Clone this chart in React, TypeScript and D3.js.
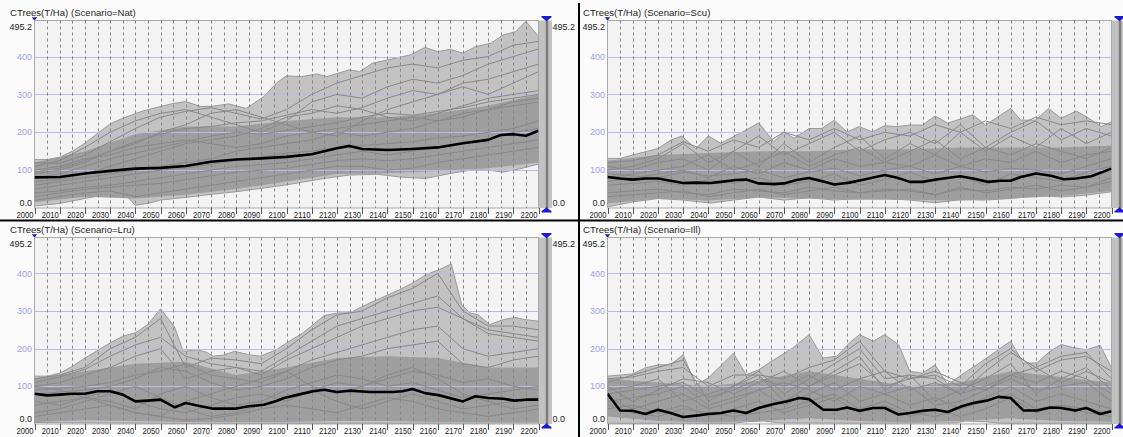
import React from 'react';
import * as d3 from 'd3';

type Pt = [number, number];

// axis setup
const Y_MAX = 495.2;
const Y_GRID = [100, 200, 300, 400];
const X_LABELS = d3.range(2000, 2201, 10);
const X_DASH = d3.range(2005, 2200, 5);
const CORE_YEARS = d3.range(2000, 2201, 20);
const LINE_YEARS = d3.range(2000, 2201, 10);

// ---- Scenario=Nat ----
const NAT_MAX: Pt[] = [[2000,128],[2005,128],[2010,134],[2015,150],[2020,171],[2025,197],[2030,222],[2035,237],[2042,254],[2047,263],[2055,276],[2060,281],[2066,268],[2071,269],[2077,275],[2084,263],[2091,294],[2096,330],[2100,349],[2106,347],[2112,354],[2116,347],[2125,365],[2129,360],[2134,382],[2140,391],[2149,404],[2155,424],[2160,413],[2165,419],[2170,409],[2175,426],[2181,435],[2186,457],[2191,466],[2195,493],[2200,453]];
const NAT_MIN: Pt[] = [[2000,5],[2010,12],[2020,25],[2030,38],[2035,43],[2040,7],[2045,12],[2050,21],[2060,28],[2070,36],[2080,43],[2090,52],[2099,60],[2107,69],[2115,78],[2125,87],[2136,89],[2145,82],[2155,78],[2165,91],[2173,100],[2180,100],[2186,95],[2193,104],[2200,116]];
const NAT_MEAN: Pt[] = [[2000,81],[2010,82],[2020,91],[2030,98],[2040,104],[2050,106],[2060,111],[2070,122],[2080,128],[2090,131],[2100,135],[2110,142],[2120,158],[2125,164],[2130,156],[2140,153],[2150,156],[2160,160],[2170,171],[2180,180],[2185,193],[2190,195],[2195,191],[2200,204]];
const NAT_CORE_HI = [120,150,195,215,215,230,240,240,250,270,300];
const NAT_CORE_LO = [15,30,25,35,50,70,90,92,98,105,120];
const NAT_RUNS = [
  [110,125,160,200,230,250,260,240,220,200,230,280,300,290,320,340,330,350,380,400,420],
  [90,100,120,150,170,200,220,250,260,240,220,200,190,230,260,280,300,320,300,330,360],
  [70,75,90,110,130,150,170,180,190,210,240,250,270,260,240,230,250,270,290,300,310],
  [60,70,80,90,100,110,120,130,150,160,170,180,200,190,200,210,230,240,260,280,290],
  [40,45,55,60,70,80,90,100,110,115,120,130,140,150,140,150,160,170,180,200,210],
  [20,30,40,45,30,40,50,60,70,80,90,100,110,110,100,105,120,130,140,150,160],
  [100,110,130,140,160,170,180,170,160,170,190,200,210,220,230,240,230,250,260,270,280],
  [120,118,140,175,210,240,255,265,250,235,260,300,330,350,370,380,370,390,400,430,440],
  [80,90,110,130,145,160,175,190,200,195,205,215,225,240,250,245,255,265,280,290,300],
  [50,60,70,80,90,100,105,115,125,135,145,150,160,165,170,175,185,190,200,210,230],
  [30,40,50,55,60,65,75,85,95,100,105,115,125,130,125,130,140,150,160,170,180],
  [95,105,125,150,175,195,210,215,225,230,245,260,250,265,290,310,300,330,340,360,380],
];

// ---- Scenario=Scu ----
const SCU_MAX: Pt[] = [[2000,131],[2005,131],[2010,140],[2020,157],[2025,179],[2029.5,190],[2035,157],[2040,190],[2045,171],[2055,206],[2060,225],[2066,175],[2070,201],[2074,184],[2080,210],[2085,210],[2090,232],[2095,201],[2100,215],[2105,201],[2110,217],[2115,215],[2120,219],[2125,219],[2130,243],[2135,224],[2145,246],[2150,219],[2160,263],[2164,232],[2170,232],[2175,263],[2180,237],[2186,256],[2190,241],[2196,215],[2200,228]];
const SCU_MIN: Pt[] = [[2000,3],[2010,16],[2020,25],[2030,21],[2041,13],[2050,21],[2060,29],[2070,21],[2080,27],[2090,21],[2100,25],[2110,25],[2120,21],[2130,14],[2140,22],[2150,21],[2160,25],[2170,34],[2180,29],[2190,34],[2200,43]];
const SCU_MEAN: Pt[] = [[2000,82],[2005,78],[2010,75],[2015,78],[2020,78],[2025,72],[2030,66],[2035,67],[2041,66],[2045,69],[2051,74],[2055,75],[2060,65],[2066,63],[2070,65],[2075,74],[2080,79],[2085,71],[2090,62],[2096,67],[2101,74],[2110,87],[2115,80],[2120,69],[2125,69],[2131,76],[2140,84],[2145,78],[2151,69],[2156,72],[2160,72],[2164,82],[2170,91],[2176,85],[2181,76],[2186,78],[2192,84],[2200,104]];
const SCU_CORE_HI = [125,140,145,150,150,155,155,160,160,160,165];
const SCU_CORE_LO = [12,25,20,28,25,22,22,20,25,32,45];
const SCU_RUNS = [
  [100,110,130,170,120,150,190,140,170,200,150,180,200,170,220,160,200,230,180,210,190],
  [80,90,100,110,140,100,120,150,110,140,160,120,150,180,130,160,140,170,150,130,160],
  [60,65,70,60,75,65,80,60,70,90,60,75,95,70,85,60,90,80,70,95,110],
  [40,45,50,40,35,50,45,40,55,45,40,50,45,35,55,40,50,60,45,55,70],
  [110,100,120,130,100,150,110,170,120,160,190,130,170,140,200,150,190,160,210,170,200],
  [120,125,140,175,150,180,160,200,180,210,180,200,190,220,200,230,210,240,220,230,220],
  [70,80,90,100,80,110,90,120,100,130,110,120,110,140,110,130,120,150,120,140,150],
  [30,35,40,45,30,40,50,35,45,55,40,45,50,35,50,45,55,50,60,55,80],
  [90,85,80,95,85,90,100,80,95,105,85,100,110,90,110,95,105,100,90,110,130],
];

// ---- Scenario=Lru ----
const LRU_MAX: Pt[] = [[2000,127],[2005,127],[2010,135],[2015,153],[2020,175],[2030,215],[2035,233],[2040,242],[2045,264],[2050,306],[2055.5,259],[2059,193],[2064.5,197],[2068.5,190],[2071,180],[2075,183],[2079.5,193],[2085,184],[2089.6,180],[2096,197],[2100,215],[2106.6,242],[2115,288],[2120.5,295],[2125,295],[2133,321],[2139,339],[2145,357],[2150,374],[2155.5,397],[2160.7,410],[2165.4,425],[2169.5,317],[2172.7,295],[2176,290],[2180.7,264],[2186,277],[2190.5,283],[2195,277],[2200,273]];
const LRU_MIN: Pt[] = [[2000,4],[2050,2],[2100,2],[2150,2],[2200,3]];
const LRU_MEAN: Pt[] = [[2000,80.5],[2005,76],[2010,78],[2015,80.5],[2020,80.5],[2025,87],[2030,87],[2035,78],[2040,60],[2045,62],[2050,64.6],[2055.7,44.4],[2060,55.8],[2065,48.7],[2071,40.7],[2079.5,40.7],[2085,47],[2091,51],[2096,61],[2099,69],[2104.7,78],[2110.6,87],[2115,91],[2120,85],[2125,88.5],[2133,85],[2142,85],[2146,87],[2150,93],[2155,82],[2160.7,76],[2170,60],[2175,73.5],[2180,69],[2186,67],[2190.5,62],[2195,64.6],[2200,64.6]];
const LRU_CORE_HI = [120,140,160,165,130,150,175,180,175,150,150];
const LRU_CORE_LO = [5,10,8,5,5,5,8,8,5,5,5];
const LRU_RUNS = [
  [120,130,150,200,230,280,150,175,170,160,200,250,290,300,335,360,400,300,260,260,250],
  [100,110,130,150,180,200,120,140,150,130,170,200,230,260,280,300,310,280,250,240,230],
  [80,85,90,100,120,150,140,110,90,100,120,150,170,180,200,210,220,160,150,170,180],
  [60,50,70,90,60,40,30,50,70,80,60,90,110,100,120,140,130,110,120,100,90],
  [30,40,60,80,100,70,40,20,30,50,70,90,60,40,60,80,60,40,50,60,70],
  [100,90,70,50,30,20,60,80,100,120,140,100,80,100,130,150,120,80,60,40,50],
  [110,125,145,180,210,230,180,160,150,140,180,220,260,280,300,320,340,280,240,230,220],
  [90,95,100,110,130,140,160,130,120,110,140,170,190,210,230,250,260,200,180,190,200],
  [50,60,70,60,40,80,100,70,50,60,90,110,130,120,100,110,90,70,80,90,100],
  [20,30,40,50,30,20,10,15,25,40,50,40,30,50,70,60,40,30,20,30,40],
];

// ---- Scenario=Ill ----
const ILL_MAX: Pt[] = [[2000,127],[2010,133],[2015,149],[2020,157],[2025,157],[2030,184],[2035,104],[2040,122],[2050,188],[2055,131],[2060,144],[2065,166],[2073.5,202],[2080,237],[2085.5,175],[2091,180],[2096,215],[2100,237],[2105.5,220],[2110,237],[2115.5,211],[2120,140],[2125,135],[2130,157],[2135,104],[2140.6,131],[2150.5,175],[2155,197],[2160,220],[2165,162],[2170.4,162],[2175.6,193],[2180,211],[2185.6,202],[2190,197],[2195.5,209],[2200,149]];
const ILL_MIN: Pt[] = [[2000,2],[2050,2],[2055,6],[2062,8],[2068,3],[2100,2],[2138,3],[2142,8],[2150,6],[2156,2],[2200,2]];
const ILL_MEAN: Pt[] = [[2000,80],[2005,36],[2010,35],[2015,26.5],[2020,38],[2025,29],[2030,18.6],[2036,23],[2040,26.5],[2045,29],[2050,36],[2055,29],[2060,42.5],[2066,53],[2071,60],[2076,69],[2080,66],[2085.6,38],[2091,38],[2095,44],[2100,35],[2105.5,42.5],[2110,42.5],[2115.5,25],[2120,29],[2125,35],[2130,38],[2135,32],[2140.6,47],[2145.2,56],[2150.5,62],[2155,72],[2160,69],[2165,36],[2170.4,36],[2175.6,44],[2180,42.5],[2185.6,36],[2190,42.5],[2195.5,26.5],[2200,34]];
const ILL_CORE_HI = [120,110,100,115,140,120,100,110,140,125,110];
const ILL_CORE_LO = [20,8,4,8,15,8,4,8,15,8,6];
const ILL_RUNS = [
  [110,130,150,170,60,100,140,80,120,160,200,120,130,120,80,140,190,150,180,190,120],
  [90,100,120,60,80,100,130,60,100,140,180,90,130,60,90,120,160,80,120,150,90],
  [70,40,60,80,40,60,90,50,80,110,60,80,50,70,40,70,100,60,80,60,40],
  [50,30,20,40,30,20,30,40,60,80,40,60,30,20,40,60,80,40,50,40,30],
  [100,60,90,120,110,80,110,140,100,130,160,100,120,140,110,90,130,150,110,140,110],
  [120,125,140,150,100,130,130,120,150,170,220,140,120,130,100,160,200,140,170,180,140],
  [80,90,100,110,70,90,120,100,130,90,120,140,90,110,80,100,130,110,140,120,80],
  [40,50,30,50,20,40,60,30,50,70,30,50,20,40,20,40,70,30,50,30,20],
  [60,70,80,100,50,70,90,110,90,60,100,80,100,50,60,90,120,90,100,110,60],
];

const FONT = '"Liberation Sans", Arial, sans-serif';
const PLOT_W = 504;
const PAGE_W = 1123;

interface PanelProps {
  id: string;
  title: string;
  left: number;
  top: number;
  bottom: number;
  max: Pt[];
  min: Pt[];
  mean: Pt[];
  coreHi: number[];
  coreLo: number[];
  runs: number[][];
}

function Panel({ id, title, left, top, bottom, max, min, mean, coreHi, coreLo, runs }: PanelProps) {
  const right = left + PLOT_W;
  const x = d3.scaleLinear().domain([2000, 2200]).range([left, right]);
  const y = d3.scaleLinear().domain([0, Y_MAX]).range([bottom, top]);
  const line = d3.line<Pt>().x(d => x(d[0])).y(d => y(d[1]));

  const envPath = line(max.concat(min.slice().reverse())) + 'Z';
  const corePts: Pt[] = CORE_YEARS.map((yr, i) => [yr, coreHi[i]] as Pt)
    .concat(CORE_YEARS.map((yr, i) => [yr, coreLo[i]] as Pt).reverse());
  const corePath = line(corePts) + 'Z';
  const cx = right + 8;
  // the right-hand labels of the right column fall outside the window
  const rightLabels = right + 40 < PAGE_W;

  return (
    <g>
      <defs>
        <clipPath id={id}>
          <rect x={left} y={top} width={PLOT_W} height={bottom - top} />
        </clipPath>
      </defs>
      <text x={left - 24.5} y={top - 4.5} fontSize={9.6} fill="#1e1e1e">{title}</text>
      <polygon points={`${left - 2.7},${top - 3.3} ${left + 2.7},${top - 3.3} ${left},${top + 0.2}`} fill="#1a1ad2" />
      <rect x={left} y={top} width={PLOT_W} height={bottom - top} fill="#f3f3f3" stroke="#a9a9a9" />

      <g clipPath={`url(#${id})`}>
        <path d={envPath} fill="#c2c2c2" stroke="#999" strokeWidth={1} />
        <path d={corePath} fill="#9e9e9e" stroke="none" />
        {Y_GRID.map(v => (
          <line key={v} x1={left} x2={right} y1={Math.round(y(v)) + 0.5} y2={Math.round(y(v)) + 0.5} stroke="#babaf2" />
        ))}
        {X_DASH.map(yr => (
          <line key={yr} x1={Math.round(x(yr)) + 0.5} x2={Math.round(x(yr)) + 0.5} y1={top} y2={bottom}
            stroke="#858585" strokeDasharray="3,3" />
        ))}
        {runs.map((r, i) => (
          <path key={i} d={line(LINE_YEARS.map((yr, j) => [yr, r[j]] as Pt)) || ''} fill="none" stroke="#888" strokeWidth={1} />
        ))}
        <path d={line(mean) || ''} fill="none" stroke="#000" strokeWidth={2.6} strokeLinejoin="round" />
      </g>

      {/* y labels */}
      <text x={left - 2.5} y={top + 6.5} dy="0.35em" textAnchor="end" fontSize={9} fill="#222">495.2</text>
      {Y_GRID.map(v => (
        <text key={v} x={left - 2.5} y={y(v)} dy="0.35em" textAnchor="end" fontSize={9} fill="#a0a0e8">{v}</text>
      ))}
      <text x={left - 2.5} y={bottom - 4.8} dy="0.35em" textAnchor="end" fontSize={9} fill="#222">0.0</text>

      {/* x ticks and labels */}
      {X_LABELS.map(yr => (
        <g key={yr}>
          <line x1={Math.round(x(yr)) + 0.5} x2={Math.round(x(yr)) + 0.5} y1={bottom} y2={bottom + 6} stroke="#555" />
          <text x={x(yr) - 1} y={bottom + 10.4} textAnchor="end" fontSize={9.5} fill="#222"
            textLength={17} lengthAdjust="spacingAndGlyphs">{yr}</text>
        </g>
      ))}

      {/* right range bar */}
      <rect x={right + 0.5} y={top} width={13} height={bottom - top} fill="#c2c2c2" />
      <line x1={right + 8.5} x2={right + 8.5} y1={top} y2={bottom} stroke="#7c7c7c" strokeWidth={2.5} />
      <polygon points={`${cx - 5},${top - 4.5} ${cx + 5},${top - 4.5} ${cx + 5},${top - 3.3} ${cx},${top + 0.8} ${cx - 5},${top - 3.3}`} fill="#1a1ad2" />
      <polygon points={`${cx - 5},${bottom + 4.5} ${cx + 5},${bottom + 4.5} ${cx + 5},${bottom + 3.3} ${cx},${bottom - 0.8} ${cx - 5},${bottom + 3.3}`} fill="#1a1ad2" />
      {rightLabels && (
        <g>
          <text x={right + 14} y={top + 6.5} dy="0.35em" fontSize={9} fill="#222">495.2</text>
          <text x={right + 14} y={bottom - 4.8} dy="0.35em" fontSize={9} fill="#222">0.0</text>
        </g>
      )}
    </g>
  );
}

export default function App() {
  return (
    <svg width={PAGE_W} height={437} style={{ position: 'absolute', left: 0, top: 0, display: 'block', background: '#fbfbfb' }}
      fontFamily={FONT}>
      <Panel id="c-nat" title="CTrees(T/Ha) (Scenario=Nat)" left={34.5} top={20.5} bottom={208}
        max={NAT_MAX} min={NAT_MIN} mean={NAT_MEAN} coreHi={NAT_CORE_HI} coreLo={NAT_CORE_LO} runs={NAT_RUNS} />
      <Panel id="c-scu" title="CTrees(T/Ha) (Scenario=Scu)" left={607.5} top={20.5} bottom={208}
        max={SCU_MAX} min={SCU_MIN} mean={SCU_MEAN} coreHi={SCU_CORE_HI} coreLo={SCU_CORE_LO} runs={SCU_RUNS} />
      <Panel id="c-lru" title="CTrees(T/Ha) (Scenario=Lru)" left={34.5} top={237.5} bottom={424}
        max={LRU_MAX} min={LRU_MIN} mean={LRU_MEAN} coreHi={LRU_CORE_HI} coreLo={LRU_CORE_LO} runs={LRU_RUNS} />
      <Panel id="c-ill" title="CTrees(T/Ha) (Scenario=Ill)" left={607.5} top={237.5} bottom={424}
        max={ILL_MAX} min={ILL_MIN} mean={ILL_MEAN} coreHi={ILL_CORE_HI} coreLo={ILL_CORE_LO} runs={ILL_RUNS} />
      <line x1={579} x2={579} y1={3} y2={437} stroke="#000" strokeWidth={2} />
      <line x1={0} x2={PAGE_W} y1={220.5} y2={220.5} stroke="#000" strokeWidth={2} />
    </svg>
  );
}
